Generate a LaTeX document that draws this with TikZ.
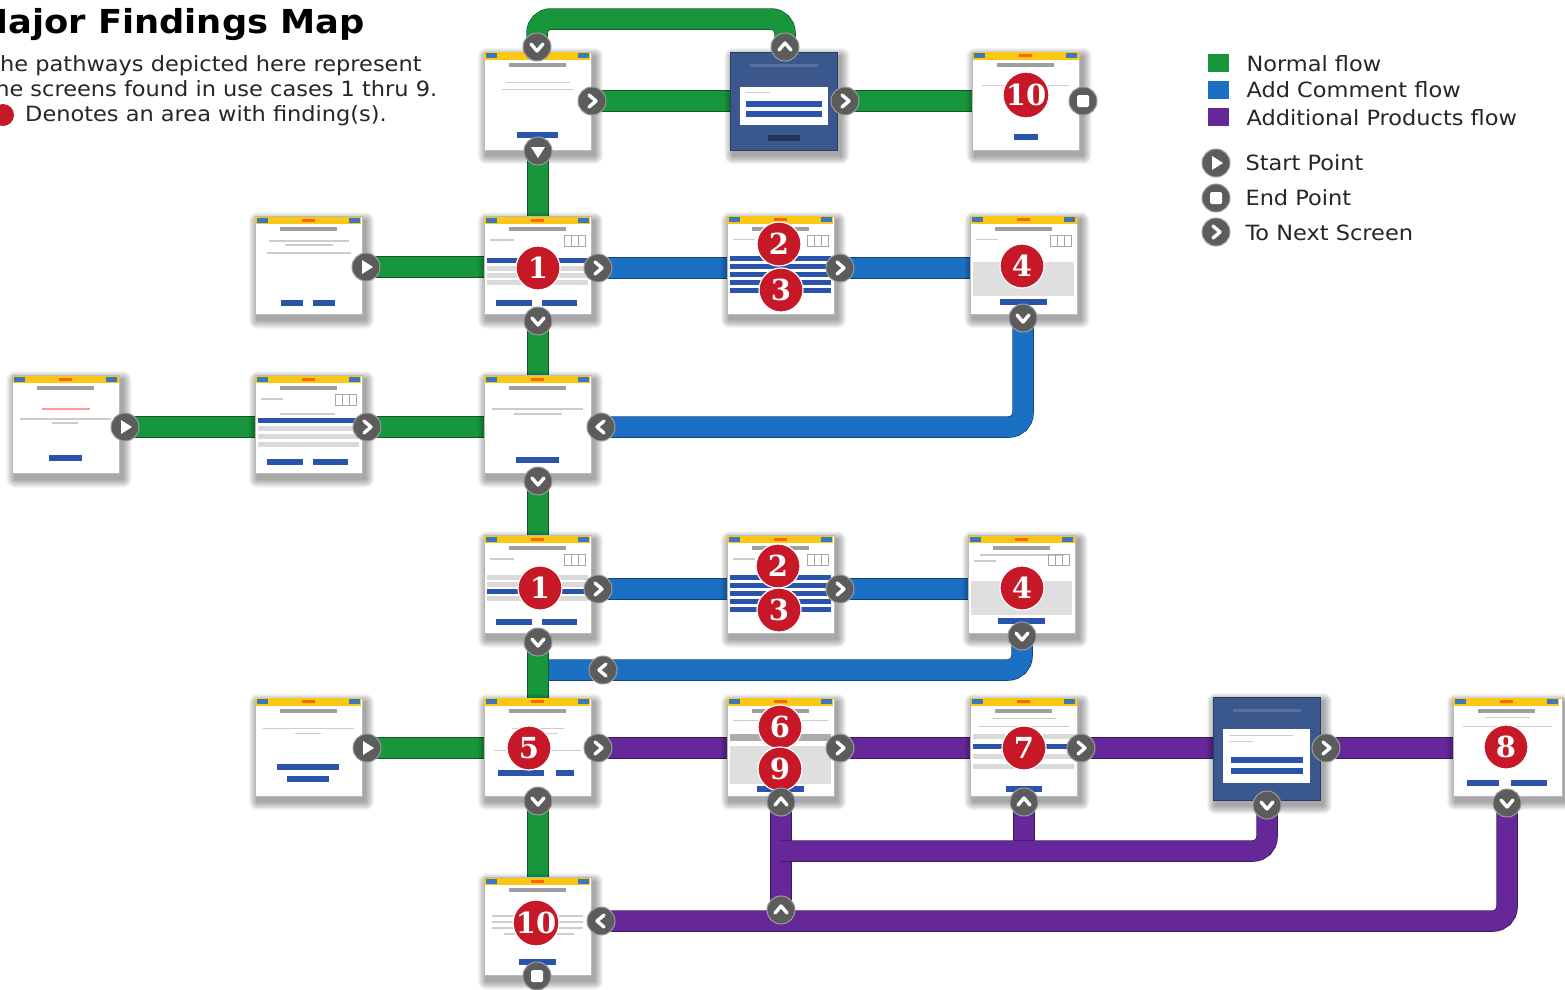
\documentclass[tikz,border=0pt]{standalone}
\usepackage{fontspec}
\setmainfont[FakeStretch=1.07]{DejaVu Sans}
\newfontfamily\badgefont{DejaVu Serif}
\usetikzlibrary{calc}
\pgfdeclarelayer{bg}
\pgfdeclarelayer{paper}
\pgfdeclarelayer{shad}
\pgfsetlayers{paper,bg,shad,main}
\definecolor{flowgreen}{RGB}{24,150,60}
\definecolor{flowblue}{RGB}{28,112,196}
\definecolor{flowpurple}{RGB}{102,40,152}
\definecolor{markgray}{RGB}{92,92,92}
\definecolor{badgered}{RGB}{198,24,38}
\definecolor{hdryellow}{RGB}{250,200,20}
\definecolor{hdrblue}{RGB}{60,120,190}
\definecolor{btnblue}{RGB}{42,84,172}
\definecolor{dlgblue}{RGB}{58,88,142}
\tikzset{
  screen/.style={draw=gray!55, fill=white, minimum width=107pt, minimum height=98pt, inner sep=0pt},
  dlgscreen/.style={screen, fill=dlgblue, draw=dlgblue!70!black},
  flowline/.style={line width=20pt, line join=round},
  gflow/.style={flowline, draw=flowgreen, preaction={draw=flowgreen!60!black, line width=21.5pt}},
  bflow/.style={flowline, draw=flowblue, preaction={draw=flowblue!60!black, line width=21.5pt}},
  pflow/.style={flowline, draw=flowpurple, preaction={draw=flowpurple!60!black, line width=21.5pt}},
  mkr/.style={circle, fill=markgray, draw=markgray!60, line width=1pt, minimum size=28pt, inner sep=0pt},
  chev/.style={white, line width=3.4pt, line cap=round, line join=round},
  badge/.style={circle, fill=badgered, draw=white, line width=1.2pt, minimum size=44pt, inner sep=0pt,
    text=white, font=\badgefont\bfseries\fontsize{29}{29}\selectfont},
  legsq/.style={rectangle, minimum width=21pt, minimum height=18pt, inner sep=0pt},
  legtext/.style={anchor=base west, font=\fontsize{21}{21}\selectfont, text=black!85},
}
\newcommand{\glyR}{\draw[chev] (-3,-6) -- (4,0) -- (-3,6);}
\newcommand{\glyL}{\draw[chev] (3,-6) -- (-4,0) -- (3,6);}
\newcommand{\glyD}{\draw[chev] (-6,-3) -- (0,4) -- (6,-3);}
\newcommand{\glyU}{\draw[chev] (-6,3) -- (0,-4) -- (6,3);}
\newcommand{\glyS}{\fill[white] (-4,-7) -- (7,0) -- (-4,7) -- cycle;}
\newcommand{\glySD}{\fill[white] (-7,-4) -- (7,-4) -- (0,7) -- cycle;}
\newcommand{\glyE}{\fill[white,rounded corners=1.5pt] (-6,-6) rectangle (6,6);}
\newcommand{\mk}[3]{\node[mkr] (#1) at (#2) {};\begin{scope}[shift={(#1.center)}]#3\end{scope}}
\newcommand{\inside}[2]{\begin{scope}[shift={(#1.north west)}]#2\end{scope}}
\newcommand{\soft}[1]{\begin{pgfonlayer}{shad}
  \foreach \i in {1,...,9}{\fill[black, opacity=0.045, rounded corners=\i pt]
     ($(#1.north west)+(3-\i,5-\i)$) rectangle ($(#1.south east)+(3+\i,5+\i)$);}
  \end{pgfonlayer}}
\newcommand{\hdr}[1]{\soft{#1}\inside{#1}{%
  \fill[hdryellow] (0.5,0.5) rectangle (106.5,8);
  \fill[hdrblue] (2,1.5) rectangle (13,6.5);
  \fill[hdrblue] (94,1.5) rectangle (105,6.5);
  \fill[orange!80!red] (47,2.5) rectangle (60,5.5);}}
\newcommand{\sTtl}{\fill[gray!75] (25,11) rectangle (82,15);}
\newcommand{\sLn}[3]{\fill[gray!40] (#1,#3) rectangle (#2,#3+1.6);}
\newcommand{\sBtn}[3]{\fill[btnblue] (#1,#3) rectangle (#2,#3+6);}
\newcommand{\sRow}[2]{\fill[#1] (3,#2) rectangle (104,#2+5);}
\newcommand{\sIcon}{\draw[gray!70, line width=0.6pt] (80,19) rectangle (101,30) (87,19) -- (87,30) (94,19) -- (94,30);}
\begin{document}
\begin{tikzpicture}[x=1pt,y=-1pt]
\begin{pgfonlayer}{paper}
\fill[white] (0,0) rectangle (1565,989);
\end{pgfonlayer}
\useasboundingbox (0,0) rectangle (1565,989);

% ---------- title and intro ----------
\node[anchor=base west, inner sep=0pt, font=\bfseries\fontsize{33}{33}\selectfont] (title) at (-27,33) {Major Findings Map};
\node[anchor=base west, inner sep=0pt, font=\fontsize{21}{21}\selectfont, text=black!85] (intro1) at (-13.7,71) {The pathways depicted here represent};
\node[anchor=base west, inner sep=0pt, font=\fontsize{21}{21}\selectfont, text=black!85] (intro2) at (-13.7,96) {the screens found in use cases 1 thru 9.};
\node[circle, fill=badgered, minimum size=22pt, inner sep=0pt] (dot) at (3,115) {};
\node[anchor=base west, inner sep=0pt, font=\fontsize{21}{21}\selectfont, text=black!85] (intro3) at (25,121) {Denotes an area with finding(s).};

% ---------- legend ----------
\node[legsq, fill=flowgreen] (lgG) at (1218.5,63) {};
\node[legsq, fill=flowblue] (lgB) at (1218.5,90) {};
\node[legsq, fill=flowpurple] (lgP) at (1218.5,117) {};
\node[legtext] (ltG) at (1243,71) {Normal flow};
\node[legtext] (ltB) at (1243,97) {Add Comment flow};
\node[legtext] (ltP) at (1243,125) {Additional Products flow};
\mk{lmS}{1216,163}{\glyS}
\mk{lmE}{1216,198}{\glyE}
\mk{lmN}{1216,232}{\glyR}
\node[legtext] (ltS) at (1242,170) {Start Point};
\node[legtext] (ltE) at (1242,205) {End Point};
\node[legtext] (ltN) at (1242,240) {To Next Screen};

% ---------- screens ----------
\node[screen] (A) at (537.5,101) {}; \hdr{A}
\inside{A}{\sTtl \sLn{22}{86}{30} \sLn{18}{90}{37} \sBtn{33}{74}{80}}
\node[dlgscreen] (B) at (784,101) {}; \soft{B}
\inside{B}{\fill[dlgblue!85!white] (20,12) rectangle (88,15);
  \fill[white] (10,35) rectangle (98,73); \sLn{16}{40}{40}
  \sBtn{16}{92}{49} \sBtn{16}{92}{59} \fill[dlgblue!60!black] (38,83) rectangle (70,89);}
\node[screen] (C) at (1026,101) {}; \hdr{C}
\inside{C}{\sTtl \sLn{10}{97}{33} \sBtn{42}{66}{82}}
\node[screen] (D) at (308.5,265.5) {}; \hdr{D}
\inside{D}{\sTtl \sLn{14}{94}{24} \sLn{30}{78}{28} \sLn{12}{96}{36} \sBtn{26}{48}{84} \sBtn{58}{80}{84}}
\node[screen] (E) at (537.5,265.5) {}; \hdr{E}
\inside{E}{\sTtl \sLn{6}{30}{23} \sIcon \sRow{btnblue}{42} \sRow{gray!30}{50} \sRow{gray!30}{57} \sRow{gray!30}{64}
  \sBtn{12}{48}{84} \sBtn{58}{93}{84}}
\node[screen] (F) at (780.5,265) {}; \hdr{F}
\inside{F}{\sTtl \sLn{6}{28}{23} \sIcon \sRow{btnblue}{40} \sRow{btnblue}{48} \sRow{btnblue}{56} \sRow{btnblue}{64} \sRow{btnblue}{72}}
\node[screen] (G) at (1024,265) {}; \hdr{G}
\inside{G}{\sTtl \sLn{6}{28}{23} \sIcon \fill[gray!25] (3,46) rectangle (104,80); \sBtn{30}{77}{83}}
\node[screen] (H) at (66,424.5) {}; \hdr{H}
\inside{H}{\sTtl \fill[red!40] (30,33) rectangle (78,34.5); \sLn{8}{99}{43} \sLn{40}{66}{47} \sBtn{37}{70}{80}}
\node[screen] (I) at (308.5,424.5) {}; \hdr{I}
\inside{I}{\sTtl \sLn{6}{28}{23} \sIcon \sLn{25}{80}{38} \sRow{btnblue}{43} \sRow{gray!30}{51} \sRow{gray!30}{59} \sRow{gray!30}{67}
  \sBtn{12}{48}{84} \sBtn{58}{93}{84}}
\node[screen] (J) at (537.5,424.5) {}; \hdr{J}
\inside{J}{\sTtl \sLn{8}{99}{33} \sLn{30}{78}{38} \sBtn{32}{75}{82}}
\node[screen] (K) at (537.5,584.5) {}; \hdr{K}
\inside{K}{\sTtl \sLn{6}{30}{23} \sIcon \sRow{gray!30}{40} \sRow{gray!30}{47} \sRow{btnblue}{54} \sRow{gray!30}{61}
  \sBtn{12}{48}{84} \sBtn{58}{93}{84}}
\node[screen] (L) at (780.5,584.5) {}; \hdr{L}
\inside{L}{\sTtl \sLn{6}{28}{23} \sIcon \sRow{btnblue}{40} \sRow{btnblue}{48} \sRow{btnblue}{56} \sRow{btnblue}{64} \sRow{btnblue}{72}}
\node[screen] (M) at (1022,584.5) {}; \hdr{M}
\inside{M}{\sTtl \sLn{12}{96}{19} \sLn{6}{28}{25} \sIcon \fill[gray!25] (3,46) rectangle (104,80); \sBtn{30}{77}{83}}
\node[screen] (N) at (308.5,747) {}; \hdr{N}
\inside{N}{\sTtl \sLn{8}{99}{30} \sLn{40}{66}{35} \sBtn{22}{84}{66} \sBtn{32}{74}{78}}
\node[screen] (O) at (537.5,747) {}; \hdr{O}
\inside{O}{\sTtl \sLn{28}{80}{30} \sLn{34}{74}{35} \sLn{10}{97}{52} \sBtn{14}{60}{72} \sBtn{72}{90}{72}}
\node[screen] (P) at (780.5,747) {}; \hdr{P}
\inside{P}{\sTtl \sLn{6}{101}{22} \fill[gray!65] (3,36) rectangle (104,43); \fill[gray!25] (3,48) rectangle (104,86); \sBtn{30}{77}{88}}
\node[screen] (Q) at (1024,747) {}; \hdr{Q}
\inside{Q}{\sTtl \sLn{22}{86}{20} \sLn{8}{99}{28} \sRow{gray!30}{36} \sRow{btnblue}{46} \sRow{gray!30}{56} \sRow{gray!30}{66} \sBtn{36}{72}{88}}
\node[dlgscreen, minimum height=103pt] (R) at (1266.5,748.5) {}; \soft{R}
\inside{R}{\fill[dlgblue!85!white] (20,12) rectangle (88,15);
  \fill[white] (10,32) rectangle (97,86); \sLn{16}{80}{38} \sLn{16}{40}{44}
  \sBtn{18}{90}{60} \sBtn{18}{90}{71}}
\node[screen, minimum width=109pt] (S) at (1507.5,747) {}; \hdr{S}
\inside{S}{\sTtl \sLn{32}{77}{19} \sLn{10}{99}{28} \sBtn{14}{46}{82} \sBtn{58}{94}{82}}
\node[screen] (T) at (537.5,926.5) {}; \hdr{T}
\inside{T}{\sTtl \sLn{8}{99}{38} \sLn{8}{99}{44} \sLn{8}{99}{50} \sLn{20}{90}{56} \sBtn{35}{72}{82}}

% ---------- findings badges ----------
\node[badge] (b10a) at (1026,95) {10};
\node[badge] (b1a) at (538,268) {1};
\node[badge] (b2a) at (779,244) {2};
\node[badge] (b3a) at (781,290) {3};
\node[badge] (b4a) at (1022,266) {4};
\node[badge] (b1b) at (540,588) {1};
\node[badge] (b2b) at (778,566) {2};
\node[badge] (b3b) at (779,610) {3};
\node[badge] (b4b) at (1022,588) {4};
\node[badge] (b5) at (529,748) {5};
\node[badge] (b6) at (780,727) {6};
\node[badge] (b9) at (780,769) {9};
\node[badge] (b7) at (1024,748) {7};
\node[badge] (b8) at (1506,747) {8};
\node[badge] (b10b) at (536,923) {10};

% ---------- markers ----------
\mk{mAt}{537,47}{\glyD}
\mk{mBt}{785,47}{\glyU}
\mk{mAr}{592,101}{\glyR}
\mk{mBr}{845,101}{\glyR}
\mk{mCe}{1083,101}{\glyE}
\mk{mAb}{538,151}{\glySD}
\mk{mDr}{366,267}{\glyS}
\mk{mEr}{598,268}{\glyR}
\mk{mFr}{840,268}{\glyR}
\mk{mEb}{538,321}{\glyD}
\mk{mGb}{1023,318}{\glyD}
\mk{mHr}{125,427}{\glyS}
\mk{mIr}{367,427}{\glyR}
\mk{mJr}{601,427}{\glyL}
\mk{mJb}{538,481}{\glyD}
\mk{mKr}{598,589}{\glyR}
\mk{mLr}{840,589}{\glyR}
\mk{mKb}{538,642}{\glyD}
\mk{mMb}{1022,636}{\glyD}
\mk{mBl}{603,670}{\glyL}
\mk{mNr}{367,748}{\glyS}
\mk{mOr}{598,748}{\glyR}
\mk{mPr}{840,748}{\glyR}
\mk{mQr}{1081,748}{\glyR}
\mk{mRr}{1326,748}{\glyR}
\mk{mOb}{538,801}{\glyD}
\mk{mPb}{781,802}{\glyU}
\mk{mQb}{1024,802}{\glyU}
\mk{mRb}{1267,805}{\glyD}
\mk{mSb}{1507,803}{\glyD}
\mk{mPu}{781,910}{\glyU}
\mk{mTr}{601,921}{\glyL}
\mk{mTe}{537,976}{\glyE}

\coordinate (gTop) at (660,19);
\coordinate (jB) at (537,670);
\coordinate (jMid) at (781,851);

% ---------- connectors ----------
\begin{pgfonlayer}{bg}
% add comment flow
\draw[bflow] (mEr.center) -- (mEr -| F.west);
\draw[bflow] (mFr.center) -- (mFr -| G.west);
\draw[bflow, rounded corners=14pt] (mGb.center) |- (mJr.center);
\draw[bflow] (mKr.center) -- (mKr -| L.west);
\draw[bflow] (mLr.center) -- (mLr -| M.west);
\draw[bflow, rounded corners=14pt] (mMb.center) |- (jB);
% additional products flow
\draw[pflow] (mOr.center) -- (mOr -| P.west);
\draw[pflow] (mPr.center) -- (mPr -| Q.west);
\draw[pflow] (mQr.center) -- (mQr -| R.west);
\draw[pflow] (mRr.center) -- (mRr -| S.west);
\draw[pflow] (mPb.center) -- (mPb |- mTr);
\draw[pflow] (mQb.center) -- (mQb |- jMid);
\draw[pflow, rounded corners=14pt] (mRb.center) |- (jMid);
\draw[pflow, rounded corners=14pt] (mSb.center) |- (mTr.center);
% normal flow
\draw[gflow, rounded corners=14pt] (mAt.center) |- (gTop) -| (mBt.center);
\draw[gflow] (mAr.center) -- (mAr -| B.west);
\draw[gflow] (mBr.center) -- (mBr -| C.west);
\draw[gflow] (mAb.center) -- (mAb |- E.north);
\draw[gflow] (mDr.center) -- (mDr -| E.west);
\draw[gflow] (mEb.center) -- (mEb |- J.north);
\draw[gflow] (mHr.center) -- (mHr -| I.west);
\draw[gflow] (mIr.center) -- (mIr -| J.west);
\draw[gflow] (mJb.center) -- (mJb |- K.north);
\draw[gflow] (mKb.center) -- (mKb |- O.north);
\draw[gflow] (mNr.center) -- (mNr -| O.west);
\draw[gflow] (mOb.center) -- (mOb |- T.north);
\end{pgfonlayer}
\end{tikzpicture}
\end{document}
